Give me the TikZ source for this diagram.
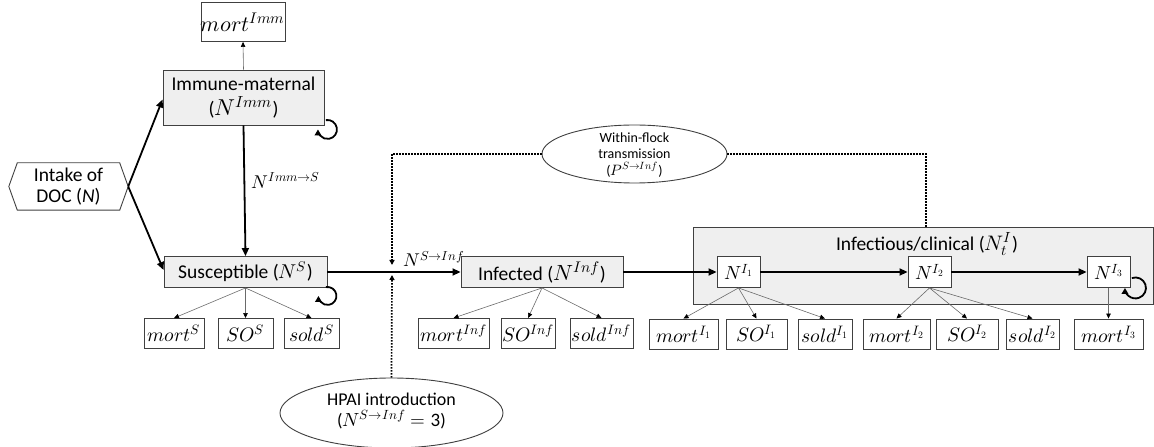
\documentclass[tikz,border=0pt]{standalone}
\usepackage{fontspec}
\usepackage{unicode-math}
\setmainfont{Carlito}
\setmathfont{Latin Modern Math}
\usetikzlibrary{arrows.meta,shapes.geometric,calc}
\definecolor{boxfill}{HTML}{EFEFEF}
\definecolor{edgec}{HTML}{404040}
\definecolor{thinc}{HTML}{6A6A6A}
\newcommand{\mathsz}[2]{{\fontsize{#1}{#1}\selectfont$#2$}}
\begin{document}
\begin{tikzpicture}[x=1pt,y=1pt,
 bigbox/.style={draw=edgec, line width=0.9pt, fill=boxfill, inner sep=0pt, align=center, font=\fontsize{19.5}{22}\selectfont},
 subbox/.style={draw=edgec, line width=0.9pt, fill=white, inner sep=0pt, minimum height=30pt, font=\fontsize{19.5}{20}\selectfont},
 nbox/.style={draw=edgec, line width=0.9pt, fill=white, inner sep=0pt, minimum width=43pt, minimum height=31pt, font=\fontsize{19}{20}\selectfont},
 flow/.style={line width=1.8pt, -{Triangle[length=8pt,width=7pt]}},
 outflow/.style={draw=thinc, line width=0.6pt, -{Triangle[length=5pt,width=4.5pt,color=black]}},
 dotline/.style={line width=1.7pt, dash pattern=on 1.5pt off 1.5pt, -{Triangle[length=5pt,width=5pt]}},
 dotplain/.style={line width=1.7pt, dash pattern=on 1.5pt off 1.5pt},
 loopar/.style={line width=1.8pt, -{Triangle[length=6pt,width=6.5pt]}},
 ell/.style={ellipse, draw=edgec, line width=0.9pt, fill=white, inner sep=0pt},
]
\useasboundingbox (0,0) rectangle (1154,447);

% infectious/clinical background box
\node[draw=edgec, line width=0.9pt, fill=boxfill, minimum width=460pt, minimum height=77pt, inner sep=0pt] (clin) at (923,181.5) {};
\node[font=\fontsize{19.5}{21.5}\selectfont] (clinlab) at (927,203) {Infectious/clinical (\mathsz{21}{N^I_t})};

% main compartments
\node[bigbox, minimum width=80pt, minimum height=39pt, fill=white, font=\fontsize{22}{22}\selectfont] (mortImm) at (243,425) {$mort^{Imm}$};
\node[bigbox, minimum width=161pt, minimum height=55pt] (imm) at (243.5,349.5) {Immune-maternal\\[3pt](\mathsz{23}{N^{Imm}})};
\node[inner sep=0pt, minimum width=102pt, minimum height=47pt, align=center, font=\fontsize{19.5}{20.5}\selectfont] (intake) at (68.5,260.5) {Intake of\\DOC (\textit{N})};
\draw[draw=edgec, line width=0.9pt] (intake.north west) -- ([xshift=-8.5pt]intake.west) -- (intake.south west) -- (intake.south east) -- ([xshift=8.5pt]intake.east) -- (intake.north east) -- cycle;
\coordinate (tip) at ([xshift=8.5pt]intake.east);

\node[bigbox, minimum width=163pt, minimum height=31pt] (sus) at (245.5,175) {Susceptible (\mathsz{20}{N^S})};
\node[bigbox, minimum width=162pt, minimum height=31pt] (inf) at (542,175) {Infected (\mathsz{22}{N^{Inf}})};

\node[nbox] (n1) at (738.5,175) {$N^{I_1}$};
\node[nbox] (n2) at (929.5,175) {$N^{I_2}$};
\node[nbox] (n3) at (1108.5,175) {$N^{I_3}$};

% outflow boxes
\node[subbox, minimum width=60pt] (mortS) at (174,113.5) {$mort^S$};
\node[subbox, minimum width=55pt] (soS) at (245.5,113.5) {$SO^S$};
\node[subbox, minimum width=55pt] (soldS) at (311.5,113.5) {$sold^S$};

\node[subbox, minimum width=71pt] (mortInf) at (453.5,113.5) {$mort^{Inf}$};
\node[subbox, minimum width=54pt] (soInf) at (528,113.5) {$SO^{Inf}$};
\node[subbox, minimum width=63pt] (soldInf) at (601.5,113.5) {$sold^{Inf}$};

\node[subbox, minimum width=69pt] (mort1) at (683.5,113) {$mort^{I_1}$};
\node[subbox, minimum width=61pt] (so1) at (756.5,113) {$SO^{I_1}$};
\node[subbox, minimum width=54pt] (sold1) at (825,113) {$sold^{I_1}$};
\node[subbox, minimum width=67pt] (mort2) at (896.5,113) {$mort^{I_2}$};
\node[subbox, minimum width=62pt] (so2) at (967,113) {$SO^{I_2}$};
\node[subbox, minimum width=53pt] (sold2) at (1032.5,113) {$sold^{I_2}$};
\node[subbox, minimum width=69pt] (mort3) at (1108.5,113) {$mort^{I_3}$};

% ellipses
\node[ell, minimum width=185pt, minimum height=58pt] (within) at (634.5,293) {};
\node[align=center, inner sep=0pt, font=\fontsize{14}{16.5}\selectfont] (withinlab) at (634.5,292) {Within-flock\\transmission\\(\mathsz{15}{P^{S\to Inf}})};
\node[ell, minimum width=223pt, minimum height=70pt] (hpai) at (391.5,34) {};
\node[align=center, inner sep=0pt, font=\fontsize{18}{20.5}\selectfont] (hpailab) at (391.5,36) {HPAI introduction\\(\mathsz{19}{N^{S\to Inf}=\text{3}})};

% main flows
\draw[flow] (tip) -- ([yshift=-2pt]imm.west);
\draw[flow] (tip) -- ([yshift=2pt]sus.west);
\draw[flow] (imm.south) -- (sus.north) node[pos=0.42, right=3pt, font=\fontsize{18.5}{20}\selectfont] {$N^{Imm\to S}$};
\draw[flow] (sus.east) -- (inf.west);
\draw[flow] (inf.east) -- (n1.west);
\draw[flow] (n1.east) -- (n2.west);
\draw[flow] (n2.east) -- (n3.west);
\node[anchor=south west, inner sep=0pt, font=\fontsize{18.5}{20}\selectfont] (slab) at (403,180) {$N^{S\to Inf}$};

% outflows
\draw[outflow] (imm.north) -- (mortImm.south);
\foreach \b in {mortS,soS,soldS} \draw[outflow] (sus.south) -- (\b.north);
\foreach \b in {mortInf,soInf,soldInf} \draw[outflow] (inf.south) -- (\b.north);
\foreach \b in {mort1,so1,sold1} \draw[outflow] (n1.south) -- (\b.north);
\foreach \b in {mort2,so2,sold2} \draw[outflow] (n2.south) -- (\b.north);
\draw[outflow] (n3.south) -- (mort3.north);

% self loops
\draw[loopar] ($(imm.south east)+(3,-4)$) ++(100:9.5) arc[start angle=100, end angle=-180, radius=9.5];
\draw[loopar] ($(sus.south east)+(0,-8)$) ++(100:9) arc[start angle=100, end angle=-180, radius=9];
\draw[loopar] ($(n3.south east)+(5,0)$) ++(110:10.5) arc[start angle=110, end angle=-180, radius=10.5];

% dotted transmission links
\coordinate (jn) at (392,175);
\draw[dotline] (within.west) -| ([yshift=7pt]jn);
\draw[dotplain] (within.east) -| ([xshift=3pt]clin.north);
\draw[dotline] (hpai.north) -- ([yshift=-3pt]jn);
\end{tikzpicture}
\end{document}
